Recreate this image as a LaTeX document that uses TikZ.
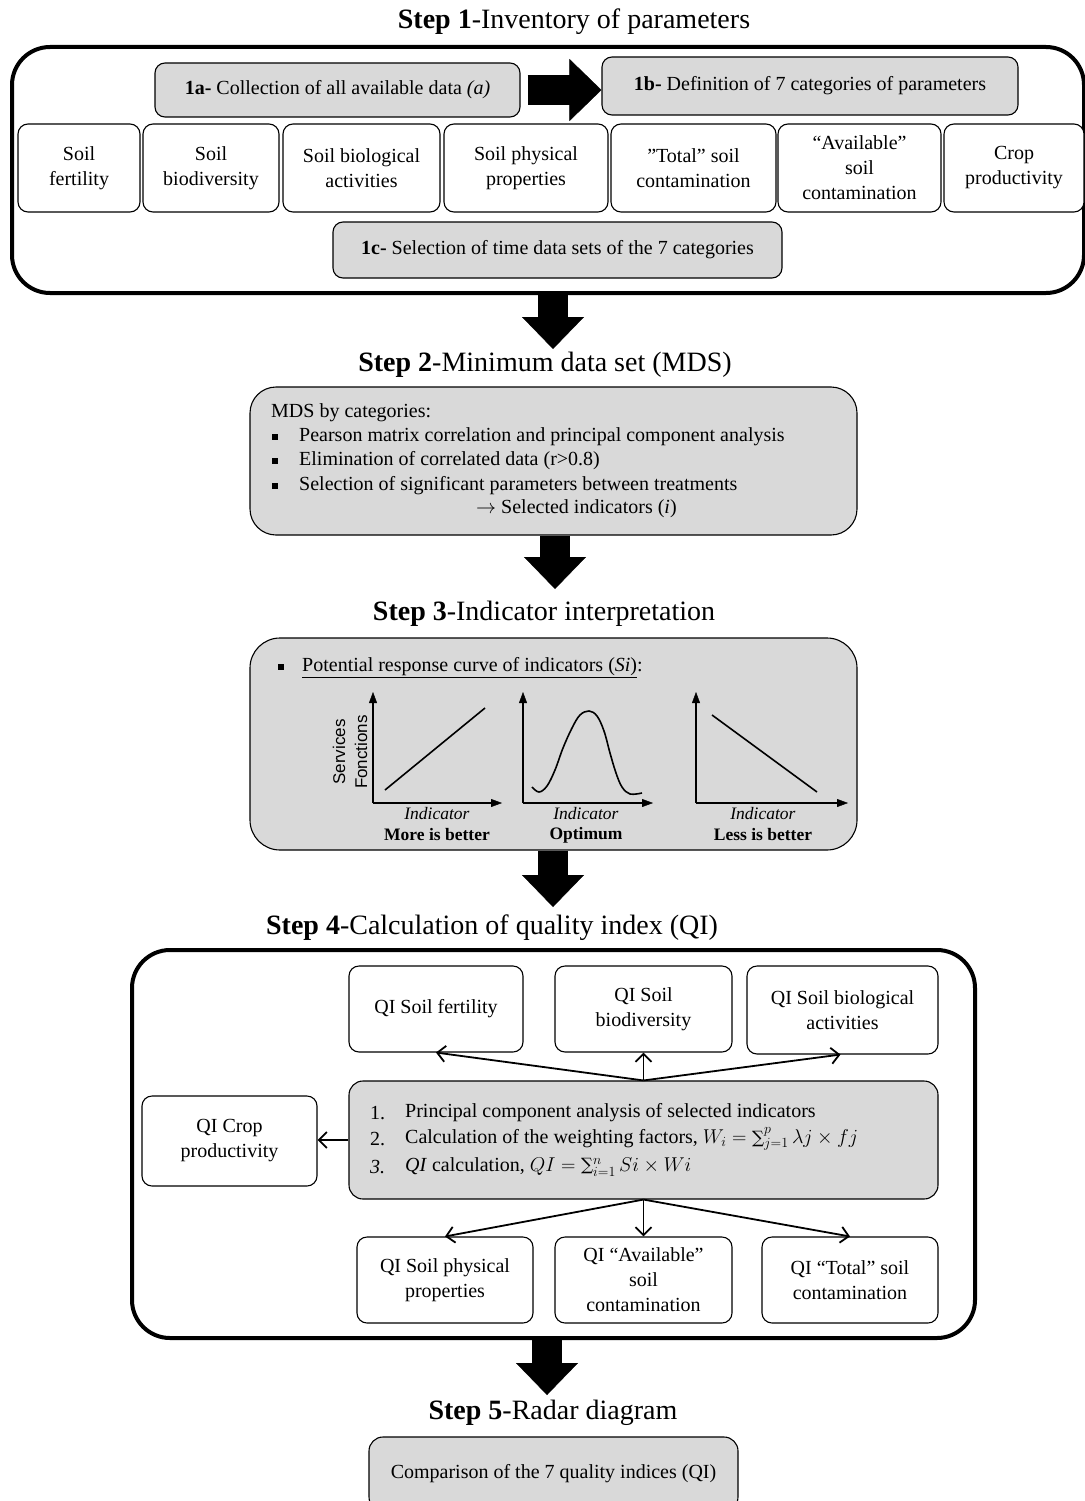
\RequirePackage{fix-cm}
\documentclass[tikz,border=0pt]{standalone}
\usepackage{fontspec}
\setmainfont{Liberation Serif}
\newfontfamily\arialf{Liberation Sans}
\newfontfamily\sumf{DejaVu Serif}
\newcommand{\bigsumsym}{\mathop{\vcenter{\hbox{\sumf\fontsize{17}{20}\selectfont ∑}}}\nolimits}
\usetikzlibrary{arrows.meta}
\definecolor{boxgray}{HTML}{D9D9D9}
\tikzset{
 body/.style={font=\fontsize{20}{25}\selectfont},
 small/.style={font=\fontsize{17.5}{21}\selectfont},
 title/.style={font=\fontsize{28}{32}\selectfont, inner sep=0pt},
 wbox/.style={draw=black, line width=1.1pt, rounded corners=10pt, fill=white, align=center, body, inner sep=0pt},
 gbox/.style={wbox, fill=boxgray},
 bigbox/.style={draw=black, line width=4pt, rounded corners=38pt, inner sep=0pt},
 bigarrow/.style={line width=30pt, -{Triangle[width=62pt,length=32pt,line width=0.4pt]}},
 thinarrow/.style={line width=1.8pt, -{Straight Barb[length=8pt,width=16pt]}},
 axis/.style={line width=1.6pt, -{Triangle[width=8pt,length=11pt,line width=0.4pt]}},
 txt/.style={body, inner sep=0pt, anchor=west},
 bulletsq/.style={fill=black, minimum size=6pt, inner sep=0pt},
}
\begin{document}
\begin{tikzpicture}[x=1pt,y=-1pt]
\useasboundingbox (0,0) rectangle (1084,1501);

% ---------------- Step 1
\node[title] (t1) at (574,22) {{\bfseries Step 1}-Inventory of parameters};
\node[bigbox, minimum width=1072pt, minimum height=246pt] (s1) at (548,170) {};
\node[gbox, minimum width=365pt, minimum height=54pt] (a1) at (337.5,90) {{\bfseries 1a-} Collection of all available data \textit{(a)}};
\node[gbox, minimum width=416pt, minimum height=58pt] (b1) at (810,86) {{\bfseries 1b-} Definition of 7 categories of parameters};
\draw[bigarrow, shorten <=7pt] (a1.east) -- (a1.east -| b1.west);

\node[wbox, minimum width=122pt, minimum height=88pt] (c1) at (79,168) {Soil\\fertility};
\node[wbox, minimum width=136pt, minimum height=88pt] (c2) at (211,168) {Soil\\biodiversity};
\node[wbox, minimum width=157pt, minimum height=88pt] (c3) at (361.5,168) {Soil biological\\activities};
\node[wbox, minimum width=164pt, minimum height=88pt] (c4) at (526,168) {Soil physical\\properties};
\node[wbox, minimum width=165pt, minimum height=88pt] (c5) at (693.5,168) {”Total” soil\\contamination};
\node[wbox, minimum width=163pt, minimum height=88pt] (c6) at (859.5,168) {“Available”\\soil\\contamination};
\node[wbox, minimum width=140pt, minimum height=88pt] (c7) at (1014,168) {Crop\\productivity};

\node[gbox, minimum width=449pt, minimum height=56pt] (c1c) at (557.5,250) {{\bfseries 1c-} Selection of time data sets of the 7 categories};

% ---------------- Step 2
\coordinate (tip1) at (553,349);
\draw[bigarrow] ([xshift=5pt]s1.south) -- (tip1);
\node[title] (t2) at (545,365) {{\bfseries Step 2}-Minimum data set (MDS)};
\node[gbox, rounded corners=26pt, minimum width=607pt, minimum height=148pt] (s2) at (553.5,461) {};
\node[txt] (m0) at (271,413) {MDS by categories:};
\node[bulletsq] (q1) at (275,437) {};
\node[bulletsq] (q2) at (275,461) {};
\node[bulletsq] (q3) at (275,486) {};
\node[txt] (m1) at (299,437) {Pearson matrix correlation and principal component analysis};
\node[txt] (m2) at (299,461) {Elimination of correlated data (r>0.8)};
\node[txt] (m3) at (299,486) {Selection of significant parameters between treatments};
\node[txt] (m4) at (476,509) {$\rightarrow$ Selected indicators (\textit{i})};

% ---------------- Step 3
\coordinate (tip2) at (555,589);
\draw[bigarrow] (s2.south -| tip2) -- (tip2);
\node[title] (t3) at (544,614) {{\bfseries Step 3}-Indicator interpretation};
\node[gbox, rounded corners=30pt, minimum width=607pt, minimum height=212pt] (s3) at (553.5,744) {};
\node[bulletsq] (q4) at (281,667) {};
\node[txt] (p0) at (302,668) {\underline{Potential response curve of indicators (\textit{Si})}:};

% graph 1
\draw[axis] (373,803) -- (373,692);
\draw[axis] (373,803) -- (502,803);
\draw[line width=1.6pt] (385,790) -- (485,708);
\node[inner sep=0pt, rotate=90, font=\arialf\fontsize{17}{20}\selectfont] (sv) at (339,752) {Services};
\node[inner sep=0pt, rotate=90, font=\arialf\fontsize{17}{20}\selectfont] (fc) at (361,752) {Fonctions};
\node[small, inner sep=0pt] (i1) at (437,814) {\textit{Indicator}};
\node[small, inner sep=0pt] (l1) at (437,835) {\bfseries More is better};
% graph 2
\draw[axis] (523,803) -- (523,692);
\draw[axis] (523,803) -- (653,803);
\draw[line width=1.6pt] plot[smooth, tension=0.6] coordinates {(532,787) (539,792) (547,786) (555,770) (563,748) (572,728) (580,715) (589,711) (597,716) (604,731) (610,753) (616,773) (622,787) (630,794) (642,793)};
\node[small, inner sep=0pt] (i2) at (586,814) {\textit{Indicator}};
\node[small, inner sep=0pt] (l2) at (586,835) {\bfseries Optimum};
% graph 3
\draw[axis] (696,803) -- (696,692);
\draw[axis] (696,803) -- (848,803);
\draw[line width=1.6pt] (712,715) -- (817,792);
\node[small, inner sep=0pt] (i3) at (763,814) {\textit{Indicator}};
\node[small, inner sep=0pt] (l3) at (763,835) {\bfseries Less is better};

% ---------------- Step 4
\coordinate (tip3) at (553,907);
\draw[bigarrow] (s3.south -| tip3) -- (tip3);
\node[title] (t4) at (492,928) {{\bfseries Step 4}-Calculation of quality index (QI)};
\node[bigbox, minimum width=843pt, minimum height=388pt] (s4) at (553.5,1144) {};

\node[wbox, minimum width=174pt, minimum height=86pt] (qf) at (436,1009) {QI Soil fertility};
\node[wbox, minimum width=177pt, minimum height=86pt] (qbd) at (643.5,1009) {QI Soil\\biodiversity};
\node[wbox, minimum width=191pt, minimum height=88pt] (qba) at (842.5,1010) {QI Soil biological\\activities};
\node[wbox, minimum width=175pt, minimum height=90pt] (qc) at (229.5,1141) {QI Crop\\productivity};
\node[gbox, minimum width=589pt, minimum height=118pt, rounded corners=14pt] (qm) at (643.5,1140) {};
\node[wbox, minimum width=176pt, minimum height=86pt] (qp) at (445,1280) {QI Soil physical\\properties};
\node[wbox, minimum width=177pt, minimum height=86pt] (qa) at (643.5,1280) {QI “Available”\\soil\\contamination};
\node[wbox, minimum width=176pt, minimum height=86pt] (qt) at (850,1280) {QI “Total” soil\\contamination};

\node[txt] (n1) at (370,1113) {1.};
\node[txt] (n2) at (370,1139) {2.};
\node[txt] (n3) at (370,1167) {\textit{3.}};
\node[txt] (e1) at (405,1113) {Principal component analysis of selected indicators};
\node[txt] (e2) at (405,1139) {Calculation of the weighting factors, $W_i=\bigsumsym_{j=1}^{p}\lambda j\times f j$};
\node[txt] (e3) at (405,1167) {\textit{QI} calculation, $QI=\bigsumsym_{i=1}^{n} Si\times Wi$};

\draw[thinarrow] (qm.north) -- (qf.south);
\draw[thinarrow] (qm.north) -- (qbd.south);
\draw[thinarrow] (qm.north) -- ([xshift=-2pt]qba.south);
\draw[thinarrow] (qm.west) -- (qm.west -| qc.east);
\draw[thinarrow] (qm.south) -- (qp.north);
\draw[thinarrow] (qm.south) -- (qa.north);
\draw[thinarrow] (qm.south) -- (qt.north);

% ---------------- Step 5
\coordinate (tip4) at (547,1395);
\draw[bigarrow] (s4.south -| tip4) -- (tip4);
\node[title] (t5) at (553,1413) {{\bfseries Step 5}-Radar diagram};
\node[gbox, rounded corners=14pt, minimum width=369pt, minimum height=74pt] (s5) at (553.5,1474) {Comparison of the 7 quality indices (QI)};
\end{tikzpicture}
\end{document}
